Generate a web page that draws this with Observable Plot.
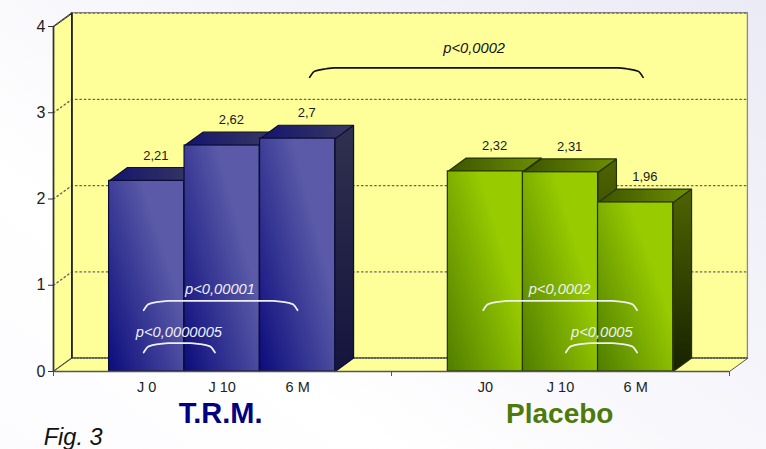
<!DOCTYPE html>
<html><head><meta charset="utf-8">
<script src="https://cdn.jsdelivr.net/npm/d3@7"></script>
<script src="https://cdn.jsdelivr.net/npm/@observablehq/plot@0.6"></script>
<style>
html,body{margin:0;padding:0;width:766px;height:449px;overflow:hidden;
background:linear-gradient(215deg,#ebebf6 0%,#f5f5fb 40%,#ffffff 72%,#fcfcff 100%);}
svg{display:block;background:transparent!important;}
</style></head><body><div id="chart"></div>
<script>
const groups = ["T.R.M.", "Placebo"];
const categories = ["J 0", "J 10", "6 M"];
const placeboCategories = ["J0", "J 10", "6 M"];
const trmValues = [2.21, 2.62, 2.7];
const placeboValues = [2.32, 2.31, 1.96];
const trmLabels = ["2,21", "2,62", "2,7"];
const placeboLabels = ["2,32", "2,31", "1,96"];
const trmStarts = [0.74, 1.745, 2.75];
const placeboStarts = [5.25, 6.25, 7.25];
const barWidth = 1.0;
const depthX = 0.245, depthY = 0.155;
const gridValues = [1, 2, 3, 4];
// [x start, x end, top value, label, label x, label y, colour]
const brackets = [
  [3.41, 7.85, 3.52, "p<0,0002", 5.6, 3.75, "#111"],
  [1.2, 3.25, 0.82, "p<0,00001", 2.217, 0.95, "#f0f0f4"],
  [1.2, 2.15, 0.33, "p<0,0000005", 1.67, 0.46, "#f0f0f4"],
  [5.72, 7.77, 0.82, "p<0,0002", 6.737, 0.95, "#f0f0f4"],
  [6.82, 7.77, 0.33, "p<0,0005", 7.3, 0.46, "#f0f0f4"]
];

const defs = () => {
  const s = d3.create("svg:defs");
  const grad = (id, x1, y1, x2, y2, a, b) => {
    const g = s.append("linearGradient").attr("id", id)
      .attr("x1", x1).attr("y1", y1).attr("x2", x2).attr("y2", y2);
    g.append("stop").attr("offset", 0).attr("stop-color", a);
    g.append("stop").attr("offset", 1).attr("stop-color", b);
  };
  grad("bFront", 0, 1, 0.753, 0.388, "#0c0c7c", "#5a5aa8");
  grad("bSide", 0, 1, 0, 0, "#14143e", "#30304f");
  grad("bTop", 0, 0, 1, 0, "#14146e", "#3a3a60");
  grad("gFront", 0, 1, 0.753, 0.388, "#4f7d00", "#99cc00");
  grad("gSide", 0, 1, 0, 0, "#162200", "#4f6400");
  grad("gTop", 0, 0, 1, 0, "#3c5400", "#6f8f00");
  return s.node();
};

const poly = (pts, o) => Plot.line([...pts, pts[0]], {x: "0", y: "1", curve: "linear", strokeLinejoin: "miter", ...o});
const barMarks = (x1, v, prefix, stroke) => {
  const x2 = x1 + barWidth;
  return [
    poly([[x2, 0], [x2 + depthX, depthY], [x2 + depthX, v + depthY], [x2, v]], {fill: `url(#${prefix}Side)`, stroke, strokeWidth: 1.2}),
    poly([[x1, v], [x2, v], [x2 + depthX, v + depthY], [x1 + depthX, v + depthY]], {fill: `url(#${prefix}Top)`, stroke, strokeWidth: 1.2}),
    Plot.rect([0], {x1: () => x1, x2: () => x2, y1: () => 0, y2: () => v, fill: `url(#${prefix}Front)`, stroke, strokeWidth: 1.2, inset: 0})
  ];
};
const bracketMark = ([a, b, top, , , , color]) => {
  const r = Math.min(0.22, (b - a) / 4), h = 0.11;
  const pts = [[a, top - h], [a + r * 0.3, top - h * 0.35], [a + r, top - 0.01], [a + r * 1.5, top]]
    .concat([[b - r * 1.5, top], [b - r, top - 0.01], [b - r * 0.3, top - h * 0.35], [b, top - h]]);
  return Plot.line(pts, {x: "0", y: "1", stroke: color, strokeWidth: 1.7, curve: "monotone-x", strokeLinecap: "round"});
};
const barLabel = (xs, vs, ls) => Plot.text(ls, {
  x: (d, i) => xs[i] + barWidth / 2 + depthX / 2, y: (d, i) => vs[i] + depthY + 0.14, text: d => d,
  fontSize: 13, fill: "#1a1a1a"
});
const catLabel = (xs, cats) => Plot.text(cats, {
  x: (d, i) => xs[i] + barWidth / 2, y: -0.185, text: d => d, fontSize: 14.5, fill: "#222"
});
const wallColor = "#ffff99";

const chart = Plot.plot({
  width: 766, height: 449,
  marginTop: 26, marginBottom: 78, marginLeft: 53, marginRight: 37,
  style: {background: "transparent", fontFamily: "'Liberation Sans', Arial, sans-serif", overflow: "visible"},
  x: {domain: [0, 9], axis: null},
  y: {domain: [0, 4], axis: null},
  marks: [
    defs,
    Plot.rect([0], {x1: () => depthX, x2: () => 9 + depthX, y1: () => depthY, y2: () => 4 + depthY, fill: wallColor, stroke: "#8a8a8a", strokeWidth: 1.3}),
    poly([[0, 0], [depthX, depthY], [depthX, 4 + depthY], [0, 4]], {fill: wallColor, stroke: "#222", strokeWidth: 1.3}),
    poly([[0, 0], [depthX, depthY], [9 + depthX, depthY], [9, 0]], {fill: wallColor, stroke: "#555", strokeWidth: 1}),
    ...gridValues.map(v => Plot.line([[0, v], [depthX, v + depthY], [9 + depthX, v + depthY]], {
      x: "0", y: "1", stroke: "#666", strokeWidth: 1.4, strokeDasharray: "1.4 3"
    })),
    Plot.ruleY([depthY], {x1: depthX, x2: 9 + depthX, stroke: "#222", strokeWidth: 1, strokeDasharray: "1.3 1.7"}),
    Plot.ruleX([depthX], {y1: depthY, y2: 4 + depthY, stroke: "#111", strokeWidth: 1.3}),
    ...trmStarts.flatMap((x, i) => barMarks(x, trmValues[i], "b", "#0c0c38")),
    ...placeboStarts.flatMap((x, i) => barMarks(x, placeboValues[i], "g", "#263400")),
    Plot.ruleX([0], {y1: 0, y2: 4, stroke: "#333", strokeWidth: 1.5}),
    Plot.ruleY([0], {x1: 0, x2: 9, stroke: "#555", strokeWidth: 1.5}),
    Plot.axisY({ticks: [0, 1, 2, 3, 4], tickFormat: "d", tickSize: 5, tickPadding: 3, fontSize: 16, label: null, stroke: "#333", fill: "#222"}),
    Plot.axisX({ticks: [0, 4.5, 9], tickSize: 5, tickFormat: () => "", label: null, stroke: "#555"}),
    barLabel(trmStarts, trmValues, trmLabels),
    barLabel(placeboStarts, placeboValues, placeboLabels),
    catLabel(trmStarts, categories),
    catLabel(placeboStarts, placeboCategories),
    ...brackets.map(bracketMark),
    Plot.text(brackets, {x: d => d[4], y: d => d[5], text: d => d[3], fill: d => d[6], fontSize: 14.7, fontStyle: "italic"}),
    Plot.text([groups[0]], {x: 2.225, y: -0.49, text: d => d, fontSize: 29, fontWeight: "bold", fill: "#000080"}),
    Plot.text([groups[1]], {x: 6.74, y: -0.49, text: d => d, fontSize: 28, fontWeight: "bold", fill: "#4d7a0a"}),
    Plot.text(["Fig. 3"], {x: -0.13, y: -0.77, text: d => d, fontSize: 23.5, fontStyle: "italic", textAnchor: "start", fill: "#111"})
  ]
});
document.getElementById("chart").append(chart);
</script></body></html>
